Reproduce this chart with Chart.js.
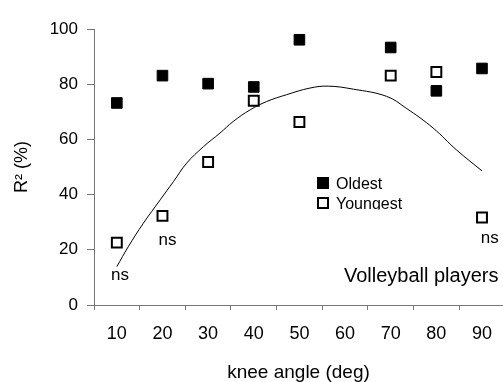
<!DOCTYPE html>
<html><head><meta charset="utf-8">
<script src="https://cdn.jsdelivr.net/npm/chart.js@4.4.1/dist/chart.umd.min.js"></script>
<style>html,body{margin:0;padding:0;background:#fff;overflow:hidden}canvas{display:block}</style>
</head><body>
<canvas id="c" width="503" height="382"></canvas>
<script>
// ---- data ----
const angles = [10, 20, 30, 40, 50, 60, 70, 80, 90];
const tickLabels = ['10', '20', '30', '40', '50', '60', '70', '80', '90'];
const oldest = [73.2, 83.1, 80.2, 79.0, 96.1, null, 93.3, 77.6, 85.7];
const youngest = [22.6, 32.3, 51.8, 74.0, 66.3, null, 83.1, 84.4, 31.7];
const trendX = [10.0, 12.5, 15.8, 19.5, 22.4, 25.3, 29.0, 32.6, 35.5, 39.2, 42.8, 47.2, 52.3, 56.3, 61.8, 69.1, 73.4, 79.3, 84.4, 90.0];
const trendY = [13.9, 21.1, 29.6, 38.1, 44.7, 51.4, 57.4, 62.3, 66.5, 70.7, 73.7, 76.2, 78.6, 79.3, 78.2, 75.6, 71.3, 64.1, 56.2, 48.6];
const seriesNames = ['Oldest', 'Youngest'];
const nsText = ['ns', 'ns', 'ns'];
const panelLabel = 'Volleyball players';
const xTitle = 'knee angle (deg)';
const yTitle = 'R\u00B2 (%)';

// ---- placement / style (not data) ----
const FONT = "'Liberation Sans', Arial, Helvetica, sans-serif";
const AXIS = '#777';
const nsPos = [{x: 10.7, y: 10.9}, {x: 21.1, y: 23.6}, {x: 91.7, y: 24.3}];
const panelPos = {x: 93.6, y: 10.2};

const pts = (vals) => angles.map((a, i) => ({x: a, y: vals[i]})).filter(p => p.y !== null);
const trend = trendX.map((x, i) => ({x: x, y: trendY[i]}));

const annotations = {
  id: 'annotations',
  afterDatasetsDraw(chart) {
    const {ctx, scales: {x, y}, chartArea} = chart;
    ctx.save();
    ctx.fillStyle = '#000';
    ctx.textBaseline = 'middle';
    ctx.font = '17px ' + FONT;
    ctx.textAlign = 'center';
    nsPos.forEach((p, i) => ctx.fillText(nsText[i], x.getPixelForValue(p.x), y.getPixelForValue(p.y)));
    ctx.font = '20px ' + FONT;
    ctx.textAlign = 'right';
    ctx.fillText(panelLabel, x.getPixelForValue(panelPos.x), y.getPixelForValue(panelPos.y));

    // legend inside plot
    const lx = chartArea.left + 223, b1 = chartArea.top + 160, b2 = chartArea.top + 180;
    ctx.font = '16px ' + FONT;
    ctx.textAlign = 'left';
    ctx.textBaseline = 'alphabetic';
    ctx.fillRect(lx, b1 - 12, 12, 12);
    ctx.fillText(seriesNames[0], lx + 19, b1);
    ctx.beginPath();
    ctx.rect(0, 0, chart.width, b2 + 0.5);
    ctx.clip();
    ctx.lineWidth = 2;
    ctx.strokeStyle = '#000';
    ctx.strokeRect(lx + 1, b2 - 11, 10, 10);
    ctx.fillText(seriesNames[1], lx + 19, b2);
    ctx.restore();
  }
};

new Chart(document.getElementById('c'), {
  type: 'scatter',
  data: {
    datasets: [
      {label: seriesNames[0], data: pts(oldest), pointStyle: 'rect', pointRadius: 7.5, pointHoverRadius: 7.5,
       backgroundColor: '#000', borderColor: '#000', borderWidth: 1, order: 1},
      {label: seriesNames[1], data: pts(youngest), pointStyle: 'rect', pointRadius: 7, pointHoverRadius: 7,
       backgroundColor: '#fff', borderColor: '#000', borderWidth: 2, order: 2},
      {label: 'trend', data: trend, type: 'line', showLine: true, borderColor: '#000', borderWidth: 1,
       pointRadius: 0, tension: 0.4, fill: false, order: 3}
    ]
  },
  options: {
    responsive: false,
    animation: false,
    layout: {autoPadding: false, padding: {top: 29, right: 0, left: 0, bottom: 0}},
    plugins: {legend: {display: false}, tooltip: {enabled: false}},
    scales: {
      x: {
        type: 'linear', min: 5, max: 94.6,
        afterFit: (s) => { s.height = 77; },
        border: {display: true, color: AXIS, width: 1},
        grid: {drawOnChartArea: false, drawTicks: true, tickLength: 5,
               tickColor: (c) => (c.tick && c.tick.value % 10 === 5) ? AXIS : 'rgba(0,0,0,0)'},
        ticks: {stepSize: 5, includeBounds: false, autoSkip: false, maxRotation: 0, padding: 0, color: '#000',
                font: {family: FONT, size: 18, lineHeight: 2.62},
                callback: (v) => { const i = angles.indexOf(v); return i >= 0 ? tickLabels[i] : ''; }},
        title: {display: true, text: xTitle, color: '#000', font: {family: FONT, size: 19},
                padding: {top: 0, bottom: -2}}
      },
      y: {
        type: 'linear', min: 0, max: 100,
        afterFit: (s) => { s.width = 94; },
        border: {display: true, color: AXIS, width: 1},
        grid: {drawOnChartArea: false, drawTicks: true, tickLength: 7, tickColor: AXIS},
        ticks: {stepSize: 20, padding: 9, color: '#000', font: {family: FONT, size: 17}},
        title: {display: true, text: yTitle, color: '#000', font: {family: FONT, size: 18},
                padding: {top: 11, bottom: 0}}
      }
    }
  },
  plugins: [annotations]
});
</script>
</body></html>
